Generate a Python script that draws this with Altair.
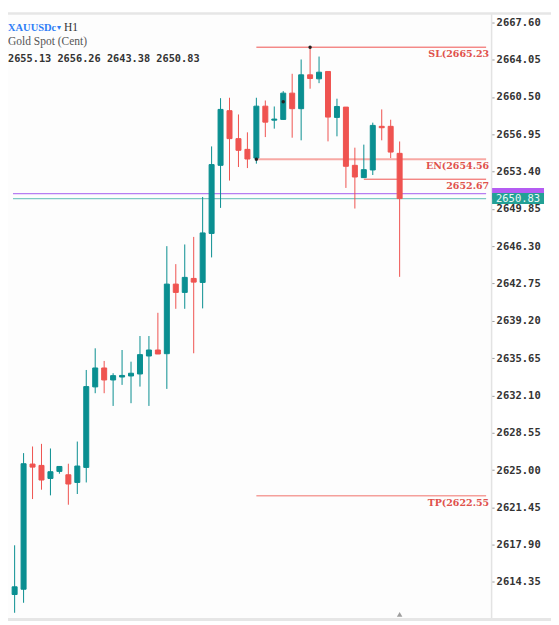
import altair as alt
import pandas as pd

# ---- data ----
opens  = [2613.16, 2613.66, 2625.57, 2625.44, 2624.20, 2624.87, 2624.55, 2623.82, 2625.25, 2632.91,
          2634.71, 2633.57, 2633.85, 2633.95, 2634.14, 2635.85, 2636.42, 2636.07, 2642.69, 2641.90,
          2643.23, 2642.85, 2647.51, 2653.99, 2659.19, 2656.53, 2655.51, 2654.68, 2659.62, 2658.29,
          2658.36, 2660.86, 2659.38, 2662.60, 2662.22, 2662.92, 2658.55, 2659.53, 2653.99, 2652.82,
          2653.55, 2657.70, 2657.70, 2655.13]
highs  = [2617.84, 2626.61, 2627.24, 2627.49, 2627.05, 2625.34, 2625.60, 2627.71, 2634.52, 2636.58,
          2635.38, 2634.21, 2636.42, 2635.31, 2637.75, 2637.75, 2639.96, 2646.30, 2644.59, 2646.46,
          2647.18, 2650.98, 2655.79, 2660.38, 2660.42, 2658.83, 2657.13, 2660.42, 2660.16, 2659.59,
          2661.05, 2662.70, 2664.06, 2665.23, 2664.34, 2662.92, 2660.33, 2659.53, 2655.67, 2655.96,
          2658.05, 2659.31, 2658.33, 2656.26]
lows   = [2611.42, 2612.37, 2622.24, 2623.13, 2622.59, 2624.65, 2621.70, 2622.72, 2623.82, 2632.31,
          2632.31, 2631.10, 2633.10, 2631.36, 2632.94, 2631.10, 2636.04, 2632.72, 2640.34, 2640.34,
          2636.11, 2640.38, 2645.23, 2649.94, 2652.54, 2653.83, 2653.73, 2654.15, 2656.68, 2657.48,
          2658.33, 2656.62, 2656.37, 2661.28, 2661.81, 2656.27, 2656.75, 2651.84, 2649.88, 2652.79,
          2653.07, 2656.37, 2654.68, 2643.38]
closes = [2613.89, 2625.60, 2625.28, 2624.05, 2624.84, 2625.34, 2623.67, 2625.38, 2632.94, 2634.71,
          2633.57, 2633.98, 2634.00, 2634.21, 2635.98, 2636.42, 2636.04, 2642.69, 2641.90, 2643.33,
          2642.88, 2647.56, 2654.06, 2659.31, 2656.53, 2655.42, 2654.59, 2659.62, 2658.10, 2658.39,
          2660.86, 2659.38, 2662.60, 2662.25, 2662.85, 2658.58, 2659.59, 2653.90, 2652.88, 2653.58,
          2657.79, 2657.57, 2655.25, 2650.83]

axis_ticks = [2667.60, 2664.05, 2660.50, 2656.95, 2653.40, 2649.85, 2646.30, 2642.75,
              2639.20, 2635.65, 2632.10, 2628.55, 2625.00, 2621.45, 2617.90, 2614.35]

level_labels = ["SL(2665.23", "EN(2654.56", "2652.67", "TP(2622.55"]
level_prices = [2665.23, 2654.56, 2652.67, 2622.55]
level_start = [27, 27, 39, 27]
level_colors = ["#ef5350", "#f7a9a4", "#ef5350", "#f5a09b"]
level_widths = [1, 2, 1, 1.5]

bid_price = 2650.83
ask_price = 2651.30

marker_idx = [27, 33, 30]
marker_price = [2654.56, 2665.23, 2660.04]

header_symbol = "XAUUSDc"
header_tf = "H1"
header_desc = "Gold Spot (Cent)"
header_ohlc = "2655.13 2656.26 2643.38 2650.83"

# ---- layout ----
W, H = 484, 606
XMIN, XMAX = -0.183, 52.66
YMIN, YMAX = 2610.88, 2668.43
TEAL = "#0a8f91"
RED = "#ef5350"

candles = pd.DataFrame({"i": list(range(len(opens))), "open": opens, "high": highs,
                        "low": lows, "close": closes})
candles["dir"] = ["up" if c >= o else "down" for o, c in zip(opens, closes)]

levels = pd.DataFrame({"label": level_labels, "price": level_prices, "start": level_start,
                       "end": [XMAX] * len(level_prices), "color": level_colors,
                       "w": level_widths})

xs = alt.Scale(domain=[XMIN, XMAX], nice=False, zero=False)
ys = alt.Scale(domain=[YMIN, YMAX], nice=False, zero=False)
yaxis = alt.Axis(orient="right", values=axis_ticks, format=".2f", title=None, grid=False,
                 labelFont="DejaVu Sans Mono", labelFontSize=10.5, labelFontWeight="bold",
                 labelColor="#333333", tickSize=3, tickColor="#9e9e9e", labelPadding=2,
                 domainColor="#e3e3e3", domainWidth=1.5, labelOverlap=False)
color = alt.Color("dir:N", scale=alt.Scale(domain=["up", "down"], range=[TEAL, RED]), legend=None)

base = alt.Chart(candles)

wicks = base.mark_rule(strokeWidth=1, clip=True).encode(
    x=alt.X("i:Q", scale=xs, axis=None),
    y=alt.Y("low:Q", scale=ys, axis=yaxis),
    y2="high:Q",
    color=color,
)
bodies = base.mark_bar(size=5, strokeWidth=1, clip=True).encode(
    x=alt.X("i:Q", scale=xs, axis=None),
    y=alt.Y("open:Q", scale=ys, axis=yaxis),
    y2="close:Q",
    color=color,
    stroke=alt.Stroke("dir:N", scale=alt.Scale(domain=["up", "down"], range=[TEAL, RED]), legend=None),
)

price_lines = alt.Chart(pd.DataFrame({"p": [ask_price, bid_price],
                                       "c": ["#b77ef2", "#7fcac5"],
                                       "s": [XMIN, XMIN], "e": [XMAX, XMAX]})).mark_rule(
    strokeWidth=1.2, clip=True).encode(
    x=alt.X("s:Q", scale=xs, axis=None), x2="e:Q",
    y=alt.Y("p:Q", scale=ys, axis=yaxis),
    color=alt.Color("c:N", scale=None),
)

level_rules = alt.Chart(levels).mark_rule(clip=True).encode(
    x=alt.X("start:Q", scale=xs, axis=None), x2="end:Q",
    y=alt.Y("price:Q", scale=ys, axis=yaxis),
    color=alt.Color("color:N", scale=None),
    strokeWidth=alt.StrokeWidth("w:Q", scale=None),
)
level_text = alt.Chart(levels).mark_text(align="right", baseline="top", dy=2,
                                         font="DejaVu Serif", fontSize=9.5, fontWeight="bold",
                                         color="#e0514b").encode(
    x=alt.value(W - 2),
    y=alt.Y("price:Q", scale=ys, axis=yaxis),
    text="label:N",
)

dots = alt.Chart(pd.DataFrame({"i": marker_idx, "p": marker_price})).mark_circle(
    size=12, color="#222222", opacity=1).encode(
    x=alt.X("i:Q", scale=xs, axis=None),
    y=alt.Y("p:Q", scale=ys, axis=yaxis),
)

boxes = alt.Chart(pd.DataFrame({"p": [ask_price, bid_price], "c": ["#b45cf2", "#22a095"]})).mark_rule(
    strokeWidth=11).encode(
    x=alt.value(W + 1), x2=alt.value(W + 53),
    y=alt.Y("p:Q", scale=ys, axis=yaxis),
    color=alt.Color("c:N", scale=None),
)
box_text = alt.Chart(pd.DataFrame({"p": [bid_price], "t": [f"{bid_price:.2f}"]})).mark_text(
    font="DejaVu Sans Mono", fontSize=10.5, color="#e9f7f5", align="center", baseline="middle").encode(
    x=alt.value(W + 27),
    y=alt.Y("p:Q", scale=ys, axis=yaxis),
    text="t:N",
)

frame_top = alt.Chart(pd.DataFrame({"k": [0]})).mark_rule(color="#e6e6e6", strokeWidth=2.5).encode(
    x=alt.value(0), x2=alt.value(W + 70), y=alt.value(0),
)
frame_bottom = alt.Chart(pd.DataFrame({"k": [0]})).mark_rule(color="#e6e6e6", strokeWidth=3).encode(
    x=alt.value(0), x2=alt.value(W + 70), y=alt.value(H + 1),
)

cursor = alt.Chart(pd.DataFrame({"i": [len(opens) - 1]})).mark_point(
    shape="triangle-up", filled=True, size=30, color="#9e9e9e", opacity=1).encode(
    x=alt.X("i:Q", scale=xs, axis=None),
    y=alt.value(H - 4),
)

def header(txt, xv, yv, col, font, size, weight="normal"):
    return alt.Chart(pd.DataFrame({"t": [txt]})).mark_text(
        align="left", baseline="middle", font=font, fontSize=size, fontWeight=weight,
        color=col).encode(x=alt.value(xv), y=alt.value(yv), text="t:N")

headers = (
    header(header_symbol, 0, 14, "#2f7df6", "Liberation Serif", 10.5, "bold")
    + header("\u25be", 49, 14, "#2f7df6", "DejaVu Sans", 8)
    + header(header_tf, 56, 14, "#333333", "Liberation Serif", 11.5)
    + header(header_desc, 0, 28, "#555555", "Liberation Serif", 11.5)
    + header(header_ohlc, 0, 46, "#333333", "DejaVu Sans Mono", 10.3, "bold")
)

chart = alt.layer(
    frame_top, frame_bottom, price_lines, level_rules, wicks, bodies, level_text, dots, boxes,
    box_text, cursor, headers
).properties(
    width=W, height=H,
    autosize=alt.AutoSizeParams(type="none"),
    padding={"left": 0, "top": 5, "right": 60, "bottom": 12},
    background="#ffffff",
).configure_view(stroke=None, fill="#fdfdfd")

chart.save("out.html", embed_options={"renderer": "svg", "actions": False})
